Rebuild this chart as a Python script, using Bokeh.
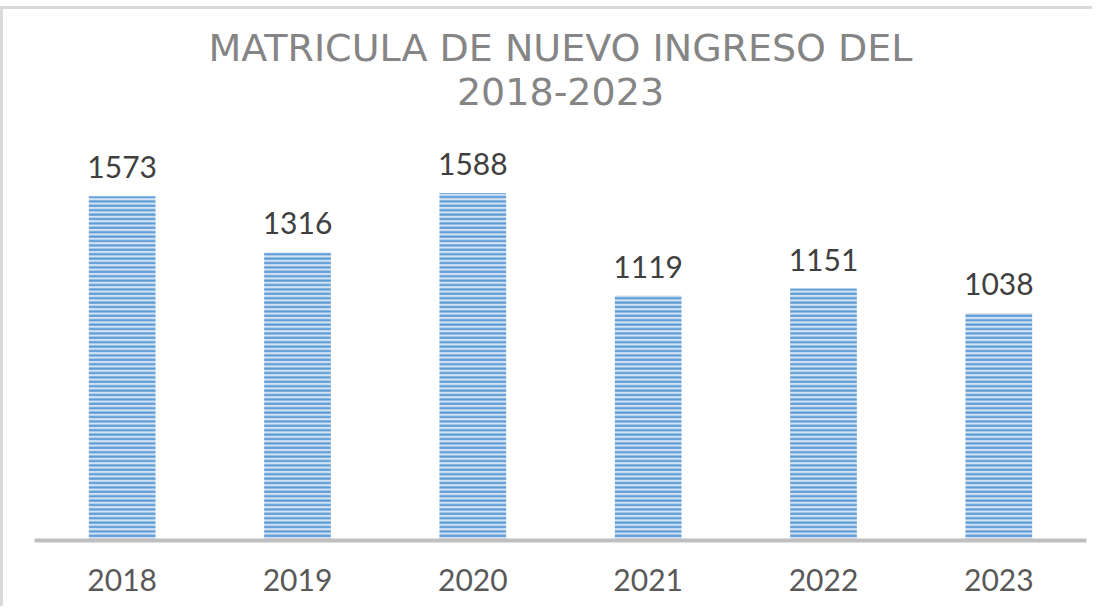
from bokeh.plotting import figure
from bokeh.models import ColumnDataSource, LabelSet, Range1d, Title
from bokeh.core.properties import value
from bokeh.embed import file_html
from bokeh.resources import INLINE

years = ["2018", "2019", "2020", "2021", "2022", "2023"]
matricula = [1573, 1316, 1588, 1119, 1151, 1038]
labels = [str(v) for v in matricula]
title_lines = ["MATRICULA DE NUEVO INGRESO DEL", "2018-2023"]

src = ColumnDataSource(dict(x=years, y=matricula, lbl=labels))

p = figure(x_range=years, y_range=Range1d(0, 1800), width=1092, height=600,
           output_backend="svg", toolbar_location=None,
           min_border_left=31, min_border_right=9, min_border_bottom=69, min_border_top=137,
           styles={"border-left": "3px solid #d9d9d9", "border-top": "3px solid #d9d9d9",
                   "margin-top": "6px"})

title_font = "DejaVu Sans"
p.title.text = title_lines[0]
p.title.align = "center"
p.title.text_font = title_font
p.title.text_font_size = "38px"
p.title.text_font_style = "normal"
p.title.text_color = "#858585"
p.title.standoff = -70
p.add_layout(Title(text=title_lines[1], align="center", text_font=title_font,
                   text_font_size="38px", text_font_style="normal",
                   text_color="#858585", standoff=83), "above")

p.vbar(x="x", top="y", width=0.38, source=src,
       fill_color="#d4e3f4", line_color=None,
       hatch_pattern="horizontal_line", hatch_color="#5b9bd5",
       hatch_scale=4.4, hatch_weight=2.2)

p.add_layout(LabelSet(x="x", y="y", text="lbl", source=src, y_offset=18,
                      text_align="center", text_baseline="alphabetic",
                      text_font=value("Lato"), text_font_size="30px",
                      text_color="#404040"))

p.yaxis.visible = False
p.xgrid.grid_line_color = None
p.ygrid.grid_line_color = None
p.outline_line_color = None
p.xaxis.axis_line_color = "#bfbfbf"
p.xaxis.axis_line_width = 4
p.xaxis.major_tick_line_color = None
p.xaxis.minor_tick_line_color = None
p.xaxis.major_label_standoff = 22
p.xaxis.major_label_text_font = "Lato"
p.xaxis.major_label_text_font_size = "30px"
p.xaxis.major_label_text_color = "#595959"
p.x_range.range_padding = 0

open("out.html", "w").write(file_html(p, INLINE))
